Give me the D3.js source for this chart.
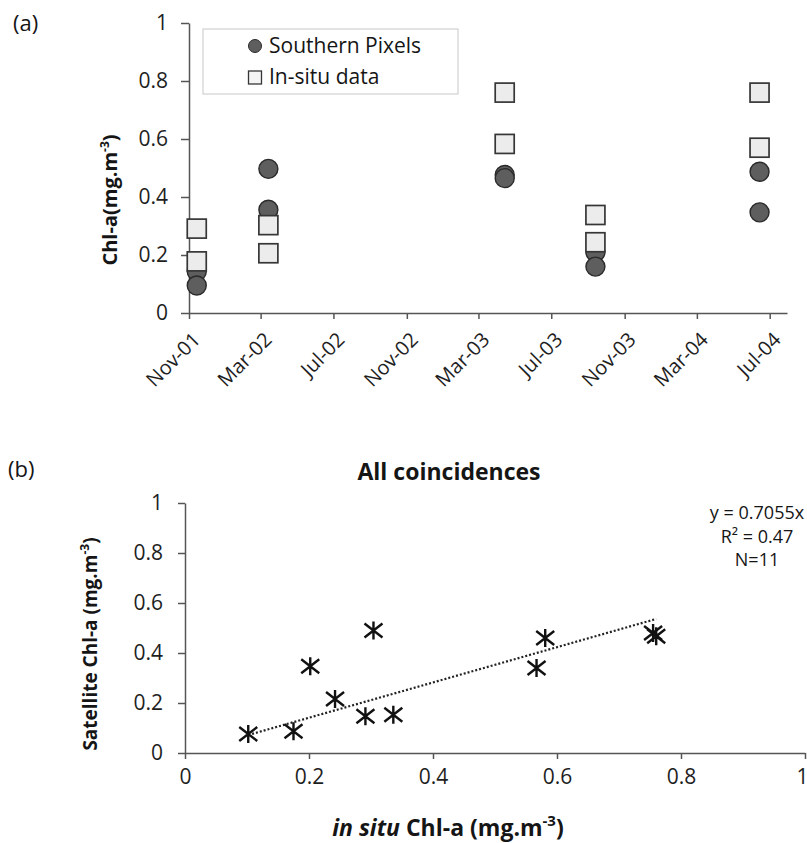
<!DOCTYPE html>
<html>
<head>
<meta charset="utf-8">
<script src="https://cdn.jsdelivr.net/npm/d3@7"></script>
<style>
  body { margin: 0; background: #fff; }
  svg text { font-family: "Open Sans", sans-serif; fill: #151515; }
  .axis path, .axis line { stroke: #555; stroke-width: 1.5; }
  .axis text { font-size: 21px; fill: #1e1e1e; }
</style>
</head>
<body>
<div id="cont"></div>
<script>

// ---- data, panel (a) ----
var sampleDates = ["2001-11-14", "2001-11-14", "2002-03-14", "2002-03-14", "2003-04-14",
                   "2003-04-14", "2003-09-13", "2003-09-13", "2004-06-14", "2004-06-14"];
var southernPixels = [0.143, 0.095, 0.497, 0.356, 0.476, 0.465, 0.21, 0.16, 0.487, 0.347];
var inSituData = [0.291, 0.178, 0.303, 0.206, 0.760, 0.583, 0.244, 0.338, 0.760, 0.570];
var dateTicks = ["2001-11-01", "2002-03-01", "2002-07-01", "2002-11-01", "2003-03-01",
                 "2003-07-01", "2003-11-01", "2004-03-01", "2004-07-01"];
var chlTicks = [0, 0.2, 0.4, 0.6, 0.8, 1];

// ---- data, panel (b) ----
var inSituX = [0.102, 0.175, 0.202, 0.242, 0.291, 0.304, 0.336, 0.567, 0.581, 0.755, 0.760];
var satelliteY = [0.076, 0.087, 0.347, 0.216, 0.147, 0.490, 0.153, 0.340, 0.460, 0.480, 0.467];
var fitSlope = 0.7055;
var fitLabels = ["y = 0.7055x", "R² = 0.47", "N=11"];

var parseDay = d3.timeParse("%Y-%m-%d"),
    formatMonth = d3.timeFormat("%b-%y"),
    formatNum = function(d) { return String(d); };

var svg = d3.select("#cont").append("svg")
    .attr("width", 807)
    .attr("height", 843);

// ================= panel (a) =================
var xA = d3.scaleTime()
    .domain([parseDay("2001-11-01"), parseDay("2004-07-30")])
    .range([189, 787]);
var yA = d3.scaleLinear().domain([0, 1]).range([313, 23]);

svg.append("text").attr("x", 13).attr("y", 31)
    .style("font-size", "22px").text("(a)");

svg.append("g")
    .attr("class", "axis")
    .attr("transform", "translate(189,0)")
    .call(d3.axisLeft(yA).tickValues(chlTicks).tickFormat(formatNum)
        .tickSize(8).tickSizeOuter(0).tickPadding(13));

var xAxisA = svg.append("g")
    .attr("class", "axis")
    .attr("transform", "translate(0,313)")
    .call(d3.axisBottom(xA).tickValues(dateTicks.map(parseDay))
        .tickFormat(formatMonth).tickSize(6).tickSizeOuter(0));

xAxisA.selectAll("text")
    .attr("y", 0).attr("dy", 0)
    .style("text-anchor", "end")
    .style("font-size", "20px")
    .attr("transform", "translate(12,28) rotate(-45)");

// y title
var ttlA = svg.append("text")
    .attr("transform", "translate(117,200) rotate(-90)")
    .style("text-anchor", "middle")
    .style("font-weight", "bold")
    .style("font-size", "20px")
    .text("Chl-a(mg.m");
ttlA.append("tspan").attr("dy", -8).style("font-size", "12px").text("-3");
ttlA.append("tspan").attr("dy", 8).text(")");

// points: circles first, squares on top
svg.append("g").selectAll("circle")
    .data(southernPixels)
  .enter().append("circle")
    .attr("cx", function(d, i) { return xA(parseDay(sampleDates[i])); })
    .attr("cy", function(d) { return yA(d); })
    .attr("r", 9.5)
    .style("fill", "#5e5e5e")
    .style("stroke", "#2a2a2a")
    .style("stroke-width", 1.4);

svg.append("g").selectAll("rect")
    .data(inSituData)
  .enter().append("rect")
    .attr("x", function(d, i) { return xA(parseDay(sampleDates[i])) - 9.5; })
    .attr("y", function(d) { return yA(d) - 9.5; })
    .attr("width", 19)
    .attr("height", 19)
    .style("fill", "#ececec")
    .style("stroke", "#363636")
    .style("stroke-width", 1.7);

// legend
var legend = svg.append("g");
legend.append("rect")
    .attr("x", 203).attr("y", 29).attr("width", 255).attr("height", 65)
    .style("fill", "#fff").style("stroke", "#c8c8c8");
legend.append("circle")
    .attr("cx", 255).attr("cy", 46).attr("r", 6.5)
    .style("fill", "#5e5e5e").style("stroke", "#2a2a2a");
legend.append("rect")
    .attr("x", 248.5).attr("y", 71).attr("width", 13).attr("height", 13)
    .style("fill", "#f4f4f4").style("stroke", "#363636").style("stroke-width", 1.3);
legend.append("text").attr("x", 269).attr("y", 53)
    .style("font-size", "21px").text("Southern Pixels");
legend.append("text").attr("x", 269).attr("y", 84)
    .style("font-size", "21px").text("In-situ data");

// ================= panel (b) =================
var xB = d3.scaleLinear().domain([0, 1]).range([185, 805]);
var yB = d3.scaleLinear().domain([0, 1]).range([753, 503]);

svg.append("text").attr("x", 8).attr("y", 477)
    .style("font-size", "22px").text("(b)");

svg.append("text").attr("x", 449).attr("y", 480)
    .style("text-anchor", "middle")
    .style("font-weight", "bold")
    .style("font-size", "23px")
    .text("All coincidences");

svg.append("g")
    .attr("class", "axis")
    .attr("transform", "translate(185,0)")
    .call(d3.axisLeft(yB).tickValues(chlTicks).tickFormat(formatNum)
        .tickSize(7).tickSizeOuter(0).tickPadding(15));

var xAxisB = svg.append("g")
    .attr("class", "axis")
    .attr("transform", "translate(0,753)")
    .call(d3.axisBottom(xB).tickValues(chlTicks).tickFormat(formatNum)
        .tickSize(6).tickSizeOuter(0).tickPadding(10));

// last label sits at the page edge
xAxisB.selectAll(".tick:last-of-type text")
    .style("text-anchor", "end")
    .attr("x", 3);

var ttlBy = svg.append("text")
    .attr("transform", "translate(97,644) rotate(-90)")
    .style("text-anchor", "middle")
    .style("font-weight", "bold")
    .style("font-size", "19px")
    .text("Satellite Chl-a (mg.m");
ttlBy.append("tspan").attr("dy", -8).style("font-size", "12px").text("-3");
ttlBy.append("tspan").attr("dy", 8).text(")");

var ttlBx = svg.append("text")
    .attr("x", 448).attr("y", 836)
    .style("text-anchor", "middle")
    .style("font-weight", "bold")
    .style("font-size", "23px");
ttlBx.append("tspan").style("font-style", "italic").text("in situ");
ttlBx.append("tspan").text(" Chl-a (mg.m");
ttlBx.append("tspan").attr("dy", -10).style("font-size", "15px").text("-3");
ttlBx.append("tspan").attr("dy", 10).text(")");

// trend line through origin, drawn over the data range
var xr = d3.extent(inSituX);
svg.append("path")
    .datum(xr)
    .attr("d", d3.line()
        .x(function(d) { return xB(d); })
        .y(function(d) { return yB(fitSlope * d); }))
    .style("fill", "none")
    .style("stroke", "#222")
    .style("stroke-width", 2.2)
    .style("stroke-dasharray", "2,2");

// star markers
svg.append("g").selectAll("path")
    .data(inSituX)
  .enter().append("path")
    .attr("transform", function(d, i) { return "translate(" + xB(d) + "," + yB(satelliteY[i]) + ")"; })
    .attr("d", "M-9,-7L9,7M-9,7L9,-7M0,-9V9")
    .style("fill", "none")
    .style("stroke", "#111")
    .style("stroke-width", 2.4);

// fit annotation
svg.append("g").selectAll("text")
    .data(fitLabels)
  .enter().append("text")
    .attr("x", 757)
    .attr("y", function(d, i) { return 519 + i * 23.5; })
    .style("text-anchor", "middle")
    .style("font-size", "18px")
    .text(function(d) { return d; });

</script>
</body>
</html>
